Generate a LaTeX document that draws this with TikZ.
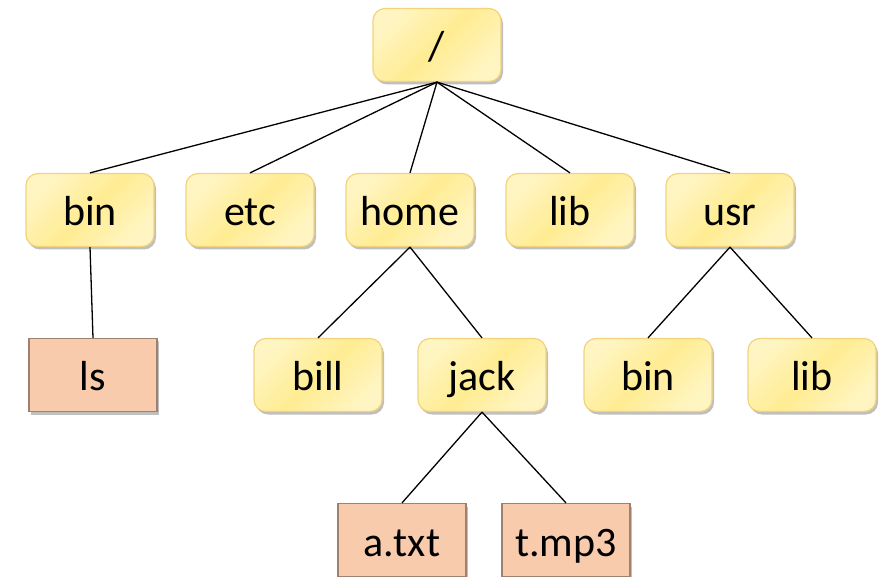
\documentclass[tikz,border=0pt]{standalone}
\usepackage{fontspec}
\setmainfont{Carlito}
\usetikzlibrary{shadows}
\definecolor{dirfill}{HTML}{FFEC92}
\definecolor{dirfillb}{HTML}{FFF5C2}
\definecolor{dirline}{HTML}{F2D27A}
\definecolor{filefill}{HTML}{F8CBAD}
\definecolor{fileline}{HTML}{A08070}
\tikzset{
  boxtext/.style={font=\fontsize{42}{46}\selectfont, text height=32pt, text depth=0pt},
  dirbox/.style={draw=dirline, line width=1.2pt, rounded corners=12pt,
    left color=dirfillb, right color=dirfillb, middle color=dirfill, shading angle=45,
    minimum width=128pt, minimum height=73pt, inner sep=0pt, boxtext,
    drop shadow={shadow xshift=2pt, shadow yshift=-3pt, opacity=0.25, fill=black}},
  filebox/.style={draw=fileline, line width=1.2pt, fill=filefill,
    minimum width=128pt, minimum height=73pt, inner sep=0pt, boxtext,
    drop shadow={shadow xshift=2pt, shadow yshift=-3pt, opacity=0.25, fill=black}},
  link/.style={draw=black, line width=1.3pt}
}
\begin{document}
\begin{tikzpicture}[x=1pt,y=-1pt]
\useasboundingbox (0,0) rectangle (884,577);
\node[dirbox] (root) at (437,45) {/};
\node[dirbox] (bin) at (90,210) {bin};
\node[dirbox] (etc) at (250,210) {etc};
\node[dirbox] (home) at (410,210) {home};
\node[dirbox] (lib) at (570,210) {lib};
\node[dirbox] (usr) at (730,210) {usr};
\node[filebox] (ls) at (93,375) {ls};
\node[dirbox] (bill) at (318,375) {bill};
\node[dirbox] (jack) at (482,375) {jack};
\node[dirbox] (ubin) at (648,375) {bin};
\node[dirbox] (ulib) at (812,375) {lib};
\node[filebox] (atxt) at (402,540) {a.txt};
\node[filebox] (tmp3) at (566,540) {t.mp3};
\foreach \c in {bin,etc,home,lib,usr}
  \draw[link] (root.south) -- (\c.north);
\draw[link] (bin.south) -- (ls.north);
\draw[link] (home.south) -- (bill.north);
\draw[link] (home.south) -- (jack.north);
\draw[link] (usr.south) -- (ubin.north);
\draw[link] (usr.south) -- (ulib.north);
\draw[link] (jack.south) -- (atxt.north);
\draw[link] (jack.south) -- (tmp3.north);
\end{tikzpicture}
\end{document}
